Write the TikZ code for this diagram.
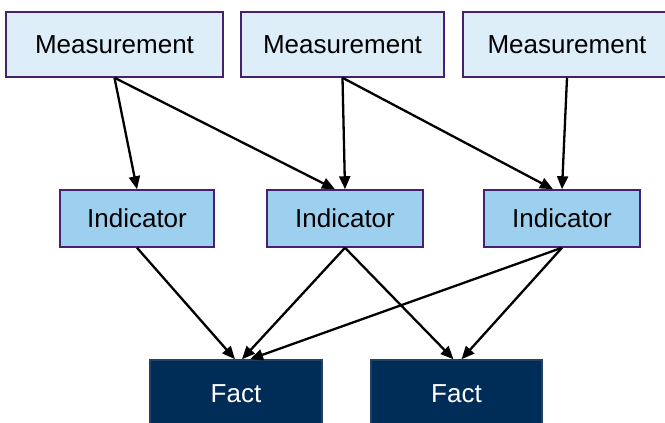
\documentclass[tikz,border=0pt]{standalone}
\usepackage{fontspec}
\setmainfont{Liberation Sans}
\usetikzlibrary{arrows.meta,positioning}

\definecolor{measurefill}{RGB}{222,238,249}
\definecolor{indicfill}{RGB}{157,207,238}
\definecolor{boxborder}{RGB}{70,34,110}
\definecolor{factfill}{RGB}{0,45,88}
\definecolor{factborder}{RGB}{35,65,100}

\begin{document}
\begin{tikzpicture}[
    x=1pt, y=-1pt,
    node distance=18pt,
    measure/.style={rectangle, draw=boxborder, line width=1.5pt, fill=measurefill, minimum width=207pt, minimum height=65pt, inner sep=0pt, align=center, font=\fontsize{26}{30}\selectfont},
    indic/.style={rectangle, draw=boxborder, line width=1.5pt, fill=indicfill, minimum width=156pt, minimum height=57pt, inner sep=0pt, align=center, font=\fontsize{26}{30}\selectfont},
    fact/.style={rectangle, draw=factborder, line width=1.5pt, fill=factfill, text=white, minimum width=172pt, minimum height=68pt, inner sep=0pt, align=center, font=\fontsize{26}{30}\selectfont},
    arrow/.style={-{Triangle[length=13pt,width=11pt]}, line width=2.3pt}
]
\clip (0,0) rectangle (665,423);

% Measurements
\node[measure, minimum width=217pt] (m1) at (114.5,44.5) {Measurement};
\node[measure, minimum width=203pt, right=16.5pt of m1] (m2) {Measurement};
\node[measure, minimum width=208pt, right=17.5pt of m2] (m3) {Measurement};

% Indicators
\node[indic, minimum width=154pt] (i1) at (137,218.5) {Indicator};
\node[indic, right=51.5pt of i1] (i2) {Indicator};
\node[indic, right=59.5pt of i2] (i3) {Indicator};

% Facts
\node[fact] (f1) at (236,394) {Fact};
\node[fact, minimum width=171pt, right=47.5pt of f1] (f2) {Fact};

% Measurement to indicator
\draw[arrow] (m1.south) -- (i1.north);
\draw[arrow] (m1.south) -- ([xshift=-10pt]i2.north);
\draw[arrow] (m2.south) -- (i2.north);
\draw[arrow] (m2.south) -- ([xshift=-9pt]i3.north);
\draw[arrow] (m3.south) -- (i3.north);

% Indicator to fact
\draw[arrow] (i1.south) -- ([xshift=-1pt]f1.north);
\draw[arrow] (i2.south) -- ([xshift=6pt]f1.north);
\draw[arrow] (i3.south) -- ([xshift=14pt]f1.north);
\draw[arrow] (i2.south) -- ([xshift=-3pt]f2.north);
\draw[arrow] (i3.south) -- ([xshift=5pt]f2.north);

\end{tikzpicture}
\end{document}
